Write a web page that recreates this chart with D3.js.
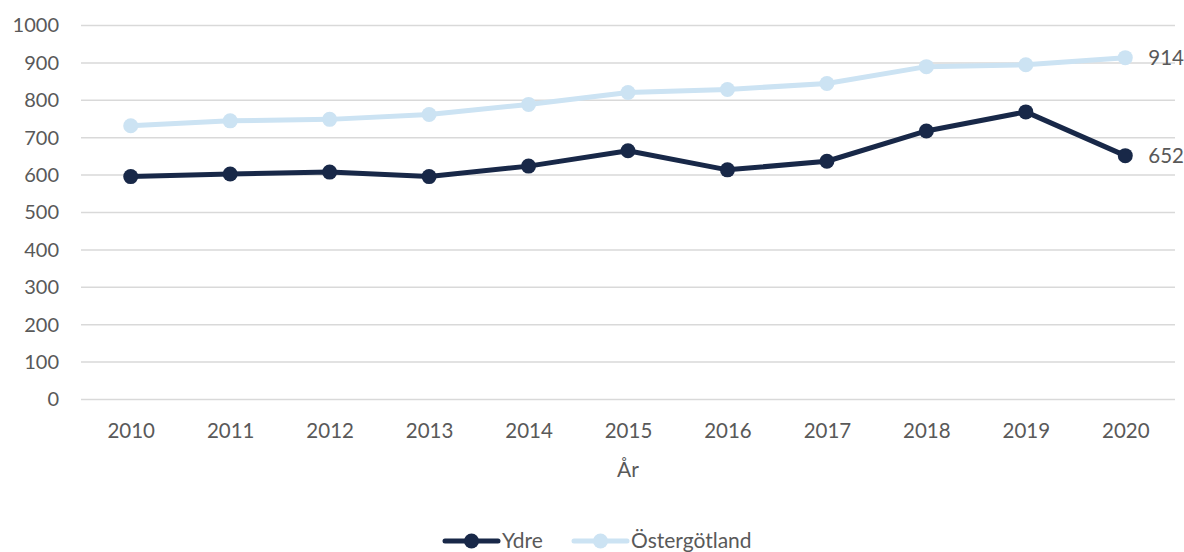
<!DOCTYPE html>
<html>
<head>
<meta charset="utf-8">
<script src="https://cdn.jsdelivr.net/npm/d3@7"></script>
<style>
  body { margin: 0; background: #fff; }
  text { font-family: Lato, "Open Sans", sans-serif; fill: #595959; }
</style>
</head>
<body>
<script>
// Data
const years = ["2010", "2011", "2012", "2013", "2014", "2015", "2016", "2017", "2018", "2019", "2020"];
const ydre = [596, 603, 608, 596, 624, 665, 614, 637, 718, 769, 652];
const ostergotland = [732, 745, 749, 762, 789, 821, 829, 845, 890, 895, 914];
const yTicks = [0, 100, 200, 300, 400, 500, 600, 700, 800, 900, 1000];

const series = [
  { name: "Ydre", values: ydre, color: "#182848" },
  { name: "Östergötland", values: ostergotland, color: "#cce3f3" }
];

const W = 1184, H = 552;
const margin = { top: 25.5, right: 9, bottom: 152.5, left: 81 };
const width = W - margin.left - margin.right;
const height = H - margin.top - margin.bottom;

const svg = d3.select("body").append("svg")
  .attr("width", W)
  .attr("height", H);

const g = svg.append("g")
  .attr("transform", `translate(${margin.left}, ${margin.top})`);

const x = d3.scalePoint()
  .domain(years)
  .range([0, width])
  .padding(0.5);

const y = d3.scaleLinear()
  .domain([0, 1000])
  .range([height, 0]);

// gridlines
g.append("g")
  .selectAll("line")
  .data(yTicks)
  .join("line")
  .attr("x1", 0)
  .attr("x2", width)
  .attr("y1", d => y(d))
  .attr("y2", d => y(d))
  .attr("stroke", "#d9d9d9")
  .attr("stroke-width", 1.5);

// y axis labels
const yAxis = g.append("g")
  .call(d3.axisLeft(y).tickValues(yTicks).tickFormat(d3.format("d")).tickSize(0).tickPadding(22));
yAxis.select(".domain").remove();
yAxis.selectAll("text")
  .style("font-size", "20px")
  .style("font-family", "Lato, sans-serif")
  .attr("fill", "#595959");

// x axis labels
const xAxis = g.append("g")
  .attr("transform", `translate(0, ${height})`)
  .call(d3.axisBottom(x).tickSize(0).tickPadding(24));
xAxis.select(".domain").remove();
xAxis.selectAll("text")
  .style("font-size", "20.5px")
  .style("font-family", "Lato, sans-serif")
  .attr("fill", "#595959");

// axis title
g.append("text")
  .attr("x", width / 2)
  .attr("y", height + 70)
  .attr("dy", "0.35em")
  .attr("text-anchor", "middle")
  .style("font-size", "21px")
  .text("År");

// lines
const line = d3.line()
  .x((d, i) => x(years[i]))
  .y(d => y(d));

series.forEach(s => {
  g.append("path")
    .datum(s.values)
    .attr("d", line)
    .attr("fill", "none")
    .attr("stroke", s.color)
    .attr("stroke-width", 5)
    .attr("stroke-linejoin", "round")
    .attr("stroke-linecap", "round");

  g.append("g")
    .selectAll("circle")
    .data(s.values)
    .join("circle")
    .attr("cx", (d, i) => x(years[i]))
    .attr("cy", d => y(d))
    .attr("r", 7.5)
    .attr("fill", s.color);

  // last value label
  const last = s.values[s.values.length - 1];
  g.append("text")
    .attr("x", x(years[years.length - 1]) + 23)
    .attr("y", y(last))
    .attr("dy", "0.35em")
    .style("font-size", "20.5px")
    .attr("fill", "#404040")
    .text(last);
});

// legend
const legendItems = [
  { s: series[0], x: 443 },
  { s: series[1], x: 572 }
];
const legend = svg.append("g").attr("transform", "translate(0, 541)");
legendItems.forEach(item => {
  legend.append("line")
    .attr("x1", item.x + 2)
    .attr("x2", item.x + 55)
    .attr("y1", 0)
    .attr("y2", 0)
    .attr("stroke", item.s.color)
    .attr("stroke-width", 5)
    .attr("stroke-linecap", "round");
  legend.append("circle")
    .attr("cx", item.x + 28.5)
    .attr("cy", 0)
    .attr("r", 7.5)
    .attr("fill", item.s.color);
  legend.append("text")
    .attr("x", item.x + 59)
    .attr("y", 0)
    .attr("dy", "0.35em")
    .style("font-size", "21px")
    .text(item.s.name);
});
</script>
</body>
</html>
